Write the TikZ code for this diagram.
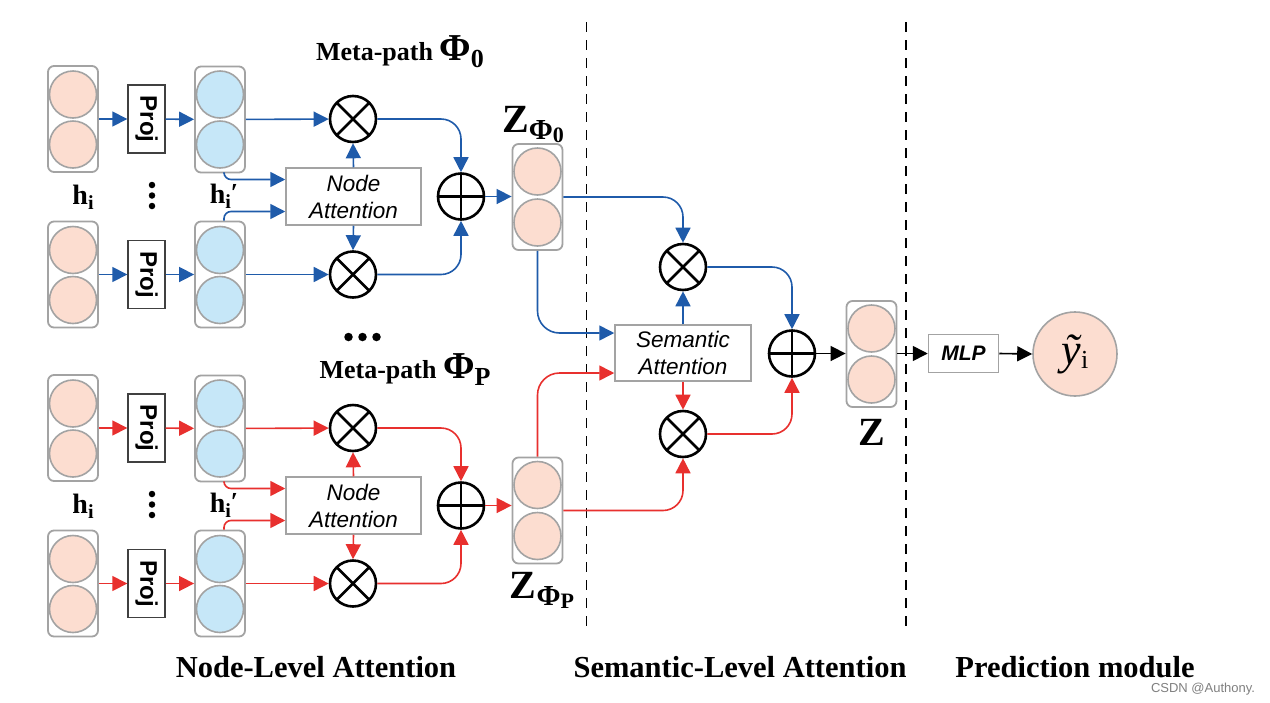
\documentclass[tikz,border=0pt]{standalone}
\usepackage{fontspec}
\setmainfont{Liberation Serif}
\setsansfont{Liberation Sans}
\usetikzlibrary{arrows.meta,calc}
\definecolor{pblue}{HTML}{1F5BAA}
\definecolor{pred}{HTML}{E8302E}
\definecolor{peach}{HTML}{FCDDD0}
\definecolor{lblue}{HTML}{C6E7F8}
\definecolor{sgray}{HTML}{A3A3A3}
\newcommand\lsub[2][-5pt]{\raisebox{#1}{#2}}
\newcommand\hlab{{\fontsize{28}{30}\selectfont\bfseries h}\lsub{\fontsize{20}{20}\selectfont\bfseries i}}
\tikzset{
 stackbox/.style={draw=sgray, line width=1.8pt, rounded corners=6pt, minimum width=50pt, minimum height=106pt, inner sep=0pt, fill=white},
 dotc/.style={circle, draw=sgray, line width=1.6pt, minimum size=47pt, inner sep=0pt},
 projbox/.style={draw=black!75, line width=1.4pt, minimum width=37pt, minimum height=68pt, inner sep=0pt, fill=white},
 attbox/.style={draw=sgray, line width=1.5pt, fill=white, align=center, inner sep=0pt, font=\sffamily\itshape\fontsize{22.5}{27}\selectfont},
 opnode/.style={circle, draw=black, line width=2.6pt, minimum size=46pt, inner sep=0pt},
 otimesnode/.style={opnode, path picture={\draw[line width=2.6pt] (path picture bounding box.north west) -- (path picture bounding box.south east) (path picture bounding box.north east) -- (path picture bounding box.south west);}},
 oplusnode/.style={opnode, path picture={\draw[line width=2.6pt] (path picture bounding box.north) -- (path picture bounding box.south) (path picture bounding box.east) -- (path picture bounding box.west);}},
 conn/.style={line width=1.6pt, -{Triangle[length=15pt,width=15pt]}},
 smalldot/.style={circle, fill=black, inner sep=0pt, minimum size=6.5pt},
 bigdot/.style={circle, fill=black, inner sep=0pt, minimum size=8.5pt},
 lab/.style={font=\bfseries\fontsize{30.5}{33}\selectfont},
 divider/.style={line width=1.5pt, dash pattern=on 10pt off 8pt},
}
% one meta-path group: #1 prefix, #2 colour, #3 y offset
\newcommand\mpgroup[3]{%
 \node[stackbox] (#1in1) at (73,119+#3) {};
 \node[dotc,fill=peach] (#1in1a) at (73,94.5+#3) {};
 \node[dotc,fill=peach] (#1in1b) at (73,144.5+#3) {};
 \node[stackbox] (#1in2) at (73,274.5+#3) {};
 \node[dotc,fill=peach] (#1in2a) at (73,250+#3) {};
 \node[dotc,fill=peach] (#1in2b) at (73,300+#3) {};
 \node[projbox] (#1pr1) at (146.5,119+#3) {};
 \node[rotate=-90, font=\sffamily\bfseries\fontsize{24}{24}\selectfont] (#1pr1t) at (#1pr1) {Proj};
 \node[projbox] (#1pr2) at (146.5,274.5+#3) {};
 \node[rotate=-90, font=\sffamily\bfseries\fontsize{24}{24}\selectfont] (#1pr2t) at (#1pr2) {Proj};
 \node[stackbox] (#1hd1) at (220,119.5+#3) {};
 \node[dotc,fill=lblue] (#1hd1a) at (220,94.5+#3) {};
 \node[dotc,fill=lblue] (#1hd1b) at (220,144.5+#3) {};
 \node[stackbox] (#1hd2) at (220,274.5+#3) {};
 \node[dotc,fill=lblue] (#1hd2a) at (220,250+#3) {};
 \node[dotc,fill=lblue] (#1hd2b) at (220,300+#3) {};
 \node (#1hl) at (83,197+#3) {\hlab};
 \node[smalldot] (#1vd1) at (152,185+#3) {};
 \node[smalldot] (#1vd2) at (152,195.5+#3) {};
 \node[smalldot] (#1vd3) at (152,206+#3) {};
 \node (#1hpl) at (224,196+#3) {\hlab{\fontsize{26}{26}\selectfont\bfseries\raisebox{2pt}{′}}};
 \node[attbox, minimum width=135pt, minimum height=57pt] (#1na) at (353.5,196.5+#3) {Node\\Attention};
 \node[otimesnode] (#1ot1) at (353,119+#3) {};
 \node[otimesnode] (#1ot2) at (353,274.5+#3) {};
 \node[oplusnode] (#1op) at (461,196.5+#3) {};
 \begin{scope}[conn, #2]
  \draw (#1in1) -- (#1pr1);
  \draw (#1pr1) -- (#1hd1);
  \draw (#1in2) -- (#1pr2);
  \draw (#1pr2) -- (#1hd2);
  \draw (#1hd1) -- (#1ot1);
  \draw (#1hd2) -- (#1ot2);
  \draw[rounded corners=7pt] ([xshift=4pt]#1hd1.south) |- ([yshift=17pt]#1na.west);
  \draw[rounded corners=7pt] ([xshift=4pt]#1hd2.north) |- ([yshift=-15pt]#1na.west);
  \draw (#1na.north) -- (#1ot1.south);
  \draw (#1na.south) -- (#1ot2.north);
  \draw[rounded corners=20pt] (#1ot1.east) -| (#1op.north);
  \draw[rounded corners=20pt] (#1ot2.east) -| (#1op.south);
 \end{scope}
}
\begin{document}
\begin{tikzpicture}[x=1pt,y=-1pt]
\useasboundingbox[fill=white] (0,0) rectangle (1270,702);
% dividers
\draw[divider] (586.5,22) -- (586.5,630);
\draw[divider] (906,22) -- (906,630);

\mpgroup{b}{pblue}{0}
\mpgroup{r}{pred}{309}

% Z stacks of the meta-paths
\node[stackbox] (zf0) at (537.5,197) {};
\node[dotc,fill=peach] (zf0a) at (537.5,171.5) {};
\node[dotc,fill=peach] (zf0b) at (537.5,222.5) {};
\node[stackbox] (zfp) at (537.5,510.5) {};
\node[dotc,fill=peach] (zfpa) at (537.5,485) {};
\node[dotc,fill=peach] (zfpb) at (537.5,536) {};

% semantic level
\node[attbox, minimum width=136pt, minimum height=56pt] (sa) at (683,353) {Semantic\\Attention};
\node[otimesnode] (os1) at (683,267) {};
\node[otimesnode] (os2) at (683,434) {};
\node[oplusnode] (osum) at (792,353.5) {};
\node[stackbox] (zz) at (871.5,354) {};
\node[dotc,fill=peach] (zza) at (871.5,328.5) {};
\node[dotc,fill=peach] (zzb) at (871.5,379.5) {};

% prediction
\node[draw=sgray, line width=1.5pt, minimum width=70pt, minimum height=38pt, inner sep=0pt, font=\sffamily\bfseries\itshape\fontsize{21}{21}\selectfont] (mlp) at (963.5,353.5) {MLP};
\node[circle, draw=sgray, line width=1.6pt, fill=peach, minimum size=84pt, inner sep=0pt] (yout) at (1075,354) {{\fontsize{44}{44}\selectfont\itshape ỹ}\lsub[-4pt]{\fontsize{26}{26}\selectfont i}};

% connectors
\begin{scope}[conn, pblue]
 \draw (bop.east) -- (bop.east -| zf0.west);
 \draw[rounded corners=20pt] (zf0.east) -| (os1.north);
 \draw[rounded corners=22pt] (zf0.south) |- ([yshift=20pt]sa.west);
 \draw (sa.north) -- (os1.south);
 \draw[rounded corners=20pt] (os1.east) -| (osum.north);
\end{scope}
\begin{scope}[conn, pred]
 \draw (rop.east) -- (rop.east -| zfp.west);
 \draw[rounded corners=22pt] (zfp.north) |- ([yshift=-20pt]sa.west);
 \draw (sa.south) -- (os2.north);
 \draw[rounded corners=20pt] (zfp.east) -| (os2.south);
 \draw[rounded corners=20pt] (os2.east) -| (osum.south);
\end{scope}
\begin{scope}[conn, black]
 \draw (osum.east) -- (osum.east -| zz.west);
 \draw (zz.east |- mlp.west) -- (mlp.west);
 \draw (mlp.east) -- (yout.west);
\end{scope}

% labels
\node[font=\bfseries\fontsize{26}{28}\selectfont] (mp0) at (400,52) {Meta-path {\fontsize{38}{38}\selectfont Φ}\lsub[-7pt]{\fontsize{26}{26}\selectfont 0}};
\node[font=\bfseries\fontsize{26}{28}\selectfont] (mpp) at (405,370) {Meta-path {\fontsize{38}{38}\selectfont Φ}\lsub[-7pt]{\fontsize{26}{26}\selectfont P}};
\node[bigdot] (hd1) at (348.5,337) {};
\node[bigdot] (hd2) at (362.5,337) {};
\node[bigdot] (hd3) at (376.5,337) {};
\node[font=\bfseries] (zf0l) at (533,125) {{\fontsize{40}{40}\selectfont Z}\lsub[-7pt]{\fontsize{29}{29}\selectfont Φ\lsub[-3pt]{\fontsize{22}{22}\selectfont 0}}};
\node[font=\bfseries] (zfpl) at (542,590) {{\fontsize{40}{40}\selectfont Z}\lsub[-7pt]{\fontsize{29}{29}\selectfont Φ\lsub[-3pt]{\fontsize{22}{22}\selectfont P}}};
\node[font=\bfseries\fontsize{40}{40}\selectfont] (zl) at (872,432) {Z};

\node[lab] (l1) at (316,667) {Node-Level Attention};
\node[lab] (l2) at (740,667) {Semantic-Level Attention};
\node[lab] (l3) at (1075,667) {Prediction module};
\node[font=\sffamily\fontsize{13}{14}\selectfont, text=black!50] (wm) at (1203,689) {CSDN @Authony.};
\end{tikzpicture}
\end{document}
